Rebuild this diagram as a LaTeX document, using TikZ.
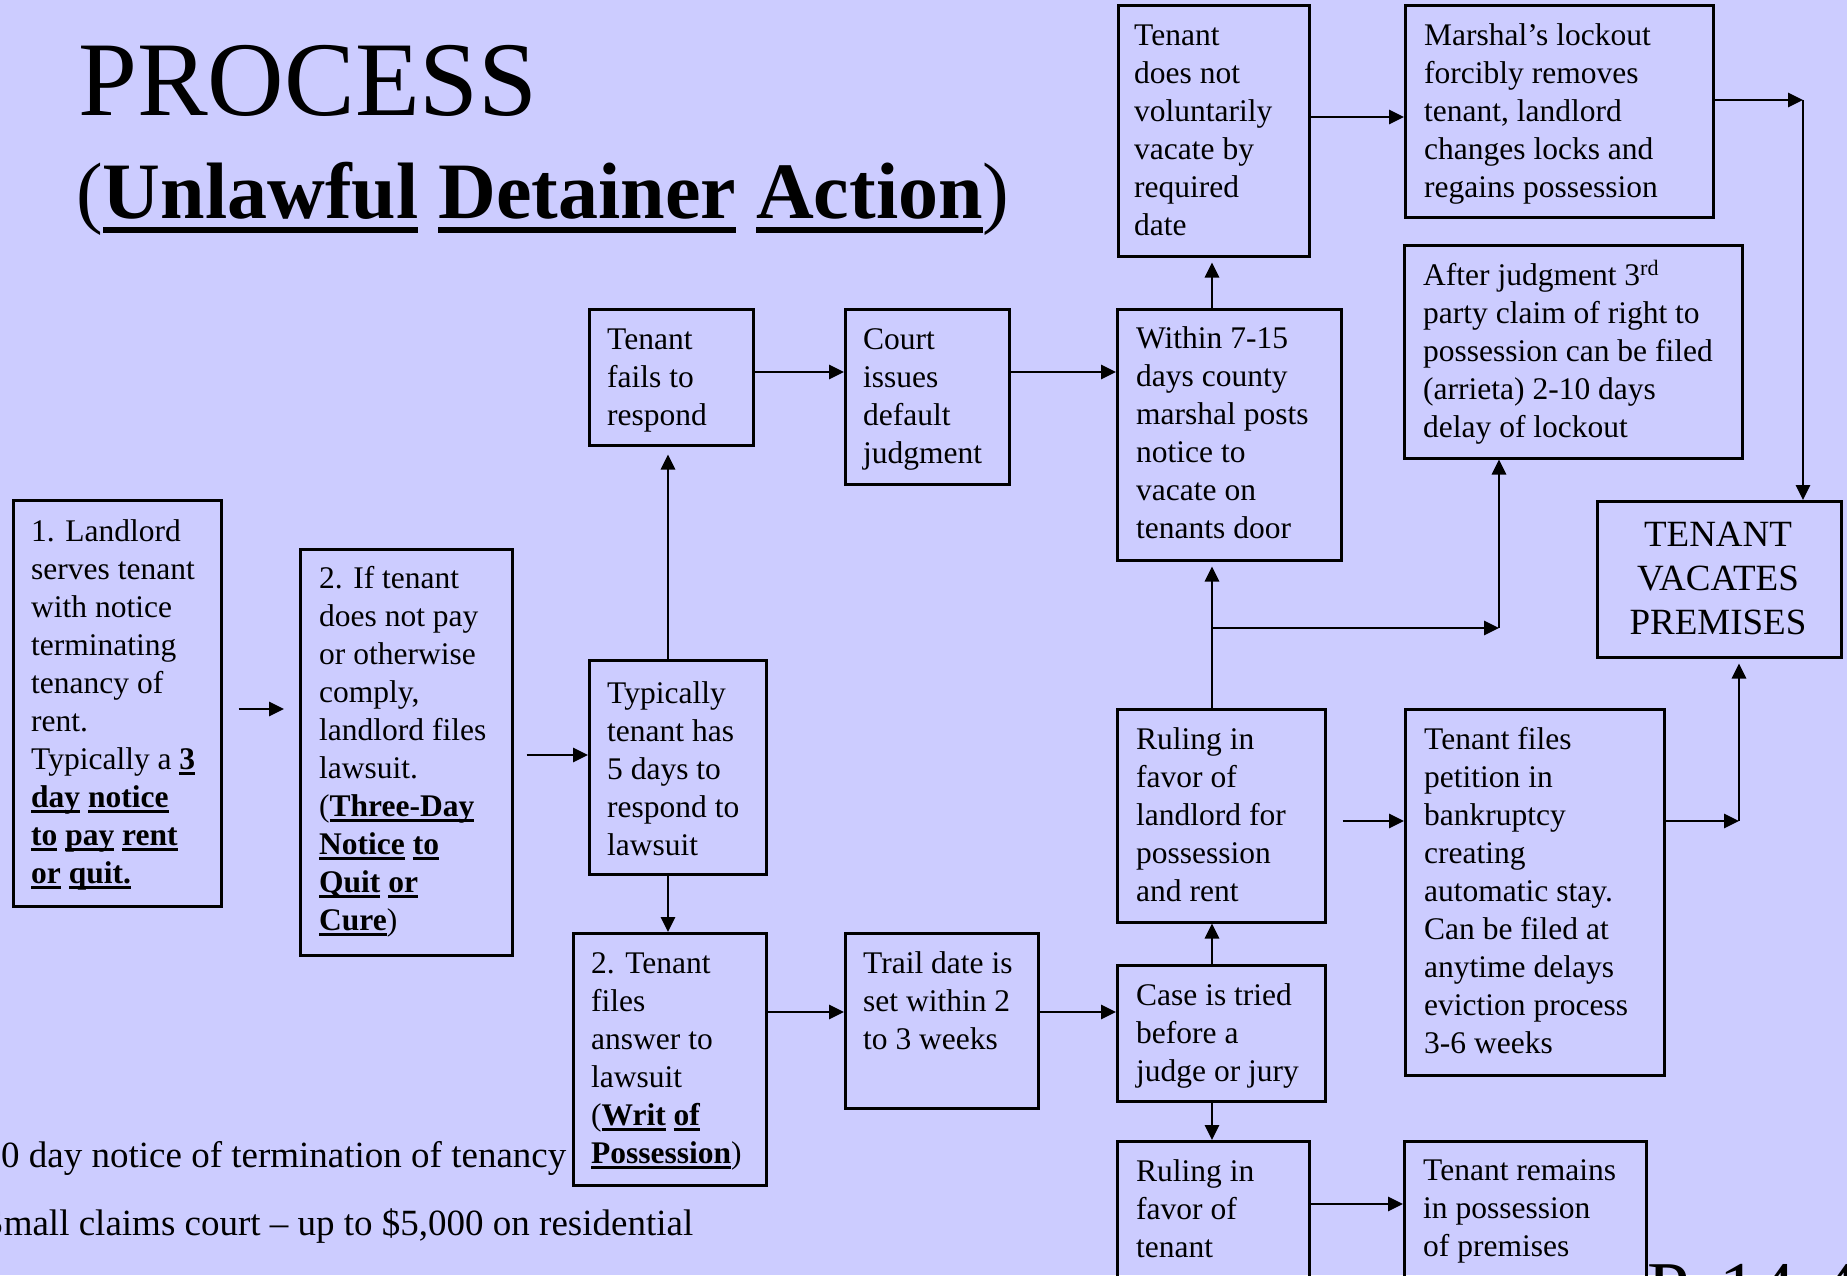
\documentclass[tikz,border=0pt]{standalone}
\usepackage{fontspec}
\setmainfont{Liberation Serif}
\usetikzlibrary{arrows.meta}
\definecolor{bg}{HTML}{CCCCFF}
\newcommand\myul[3]{\leavevmode\setbox0=\hbox{#3}\rlap{\rule[-#1]{\wd0}{#2}}\box0\relax}
\newcommand\bu[1]{\myul{6pt}{2.8pt}{\textbf{#1}}}
\newcommand\tu[1]{\myul{15pt}{6pt}{\textbf{#1}}}
\newcommand\lines[1]{\begin{tabular}[t]{@{}l@{}}#1\end{tabular}}
\begin{document}
\begin{tikzpicture}[x=1pt,y=-1pt,
  bx/.style={draw, line width=2.5pt, inner sep=0pt, anchor=north west},
  tx/.style={inner sep=0pt, anchor=base west, font=\fontsize{31.5}{38}\selectfont},
  arr/.style={line width=2.8pt, -{Triangle[length=15pt,width=14pt]}},
  big/.style={inner sep=0pt, anchor=base west, font=\fontsize{37}{44}\selectfont}]
\fill[bg] (0,0) rectangle (1847,1275);
\useasboundingbox (0,0) rectangle (1847,1275);
\clip (0,0) rectangle (1847,1275);

% title
\node[inner sep=0pt, anchor=base west, font=\fontsize{106}{120}\selectfont] (title) at (78,115) {PROCESS};
\node[inner sep=0pt, anchor=base west, font=\fontsize{80}{90}\selectfont] (sub) at (76,218) {(\tu{Unlawful} \tu{Detainer} \tu{Action})};

% boxes
\node[bx, minimum width=208, minimum height=406] (b1) at (12,499) {};
\node[bx, minimum width=212, minimum height=406] (b2) at (299,548) {};
\node[bx, minimum width=177, minimum height=214] (b3) at (588,659) {};
\node[bx, minimum width=164, minimum height=136] (b4) at (588,308) {};
\node[bx, minimum width=164, minimum height=175] (b5) at (844,308) {};
\node[bx, minimum width=224, minimum height=251] (b6) at (1116,308) {};
\node[bx, minimum width=191, minimum height=251] (b7) at (1117,4) {};
\node[bx, minimum width=308, minimum height=212] (b8) at (1404,4) {};
\node[bx, minimum width=338, minimum height=213] (b9) at (1403,244) {};
\node[bx, minimum width=244, minimum height=156] (b10) at (1596,500) {};
\node[bx, minimum width=208, minimum height=213] (b11) at (1116,708) {};
\node[bx, minimum width=259, minimum height=366] (b12) at (1404,708) {};
\node[bx, minimum width=208, minimum height=136] (b13) at (1116,964) {};
\node[bx, minimum width=192, minimum height=160] (b14) at (1116,1140) {};
\node[bx, minimum width=242, minimum height=160] (b15) at (1403,1140) {};
\node[bx, minimum width=193, minimum height=252] (b16) at (572,932) {};
\node[bx, minimum width=193, minimum height=175] (b17) at (844,932) {};

% texts
\node[tx] (t1) at (31,541) {\lines{1. Landlord\\ serves tenant\\ with notice\\ terminating\\ tenancy of\\ rent.\\ Typically a \bu{3}\\ \bu{day} \bu{notice}\\ \bu{to} \bu{pay} \bu{rent}\\ \bu{or} \bu{quit.}}};
\node[tx] (t2) at (319,588) {\lines{2. If tenant\\ does not pay\\ or otherwise\\ comply,\\ landlord files\\ lawsuit.\\ (\bu{Three-Day}\\ \bu{Notice} \bu{to}\\ \bu{Quit} \bu{or}\\ \bu{Cure})}};
\node[tx] (t3) at (607,703) {\lines{Typically\\ tenant has\\ 5 days to\\ respond to\\ lawsuit}};
\node[tx] (t4) at (607,349) {\lines{Tenant\\ fails to\\ respond}};
\node[tx] (t5) at (863,349) {\lines{Court\\ issues\\ default\\ judgment}};
\node[tx] (t6) at (1136,348) {\lines{Within 7-15\\ days county\\ marshal posts\\ notice to\\ vacate on\\ tenants door}};
\node[tx] (t7) at (1134,45) {\lines{Tenant\\ does not\\ voluntarily\\ vacate by\\ required\\ date}};
\node[tx] (t8) at (1424,45) {\lines{Marshal’s lockout\\ forcibly removes\\ tenant, landlord\\ changes locks and\\ regains possession}};
\node[tx] (t9) at (1423,285) {\lines{After judgment 3\textsuperscript{rd}\\ party claim of right to\\ possession can be filed\\ (arrieta) 2-10 days\\ delay of lockout}};
\node[inner sep=0pt, anchor=base, font=\fontsize{37}{44}\selectfont] (t10) at (1718,546) {\begin{tabular}[t]{@{}c@{}}TENANT\\ VACATES\\ PREMISES\end{tabular}};
\node[tx] (t11) at (1136,749) {\lines{Ruling in\\ favor of\\ landlord for\\ possession\\ and rent}};
\node[tx] (t12) at (1424,749) {\lines{Tenant files\\ petition in\\ bankruptcy\\ creating\\ automatic stay.\\ Can be filed at\\ anytime delays\\ eviction process\\ 3-6 weeks}};
\node[tx] (t13) at (1136,1005) {\lines{Case is tried\\ before a\\ judge or jury}};
\node[tx] (t14) at (1136,1181) {\lines{Ruling in\\ favor of\\ tenant}};
\node[tx] (t15) at (1423,1180) {\lines{Tenant remains\\ in possession\\ of premises}};
\node[tx] (t16) at (591,973) {\lines{2. Tenant\\ files\\ answer to\\ lawsuit\\ (\bu{Writ} \bu{of}\\ \bu{Possession})}};
\node[tx] (t17) at (863,973) {\lines{Trail date is\\ set within 2\\ to 3 weeks}};

% bottom notes
\node[big] (n1) at (1,1167) {0 day notice of termination of tenancy};
\node[big] (n2) at (-17,1235) {Small claims court – up to \$5,000 on residential};
\node[inner sep=0pt, anchor=base west, font=\fontsize{76}{90}\selectfont] (pg) at (1647,1314) {P. 14-4};

% junction coordinates
\coordinate (j1) at (1212,628);
\coordinate (j2) at (1499,628);
\coordinate (c1) at (1803,100);
\coordinate (c2) at (1739,821);

% connectors
\draw[arr, shorten <=16pt, shorten >=15pt] (b1.east |- 0,709) -- (b2.west |- 0,709);
\draw[arr, shorten <=13pt] (b2.east |- 0,755) -- (b3.west |- 0,755);
\draw[arr, shorten >=8pt] (668,0 |- b3.north) -- (668,0 |- b4.south);
\draw[arr] (668,0 |- b3.south) -- (668,0 |- b16.north);
\draw[arr] (b4.east |- 0,372) -- (b5.west |- 0,372);
\draw[arr] (b5.east |- 0,372) -- (b6.west |- 0,372);
\draw[arr] (b16.east |- 0,1012) -- (b17.west |- 0,1012);
\draw[arr] (b17.east |- 0,1012) -- (b13.west |- 0,1012);
\draw[arr] (1212,0 |- b13.north) -- (1212,0 |- b11.south);
\draw[arr] (1212,0 |- b13.south) -- (1212,0 |- b14.north);
\draw[arr, shorten >=5pt] (1212,0 |- b11.north) -- (1212,0 |- b6.south);
\draw[arr] (j1) -- (j2);
\draw[arr] (j2) -- (j2 |- b9.south);
\draw[arr, shorten >=5pt] (1212,0 |- b6.north) -- (1212,0 |- b7.south);
\draw[arr] (b7.east |- 0,117) -- (b8.west |- 0,117);
\draw[arr] (b8.east |- c1) -- (c1);
\draw[arr] (c1) -- (c1 |- b10.north);
\draw[arr, shorten <=16pt] (b11.east |- 0,821) -- (b12.west |- 0,821);
\draw[arr] (b12.east |- c2) -- (c2);
\draw[arr, shorten >=5pt] (c2) -- (c2 |- b10.south);
\draw[arr] (b14.east |- 0,1204) -- (b15.west |- 0,1204);
\end{tikzpicture}
\end{document}
